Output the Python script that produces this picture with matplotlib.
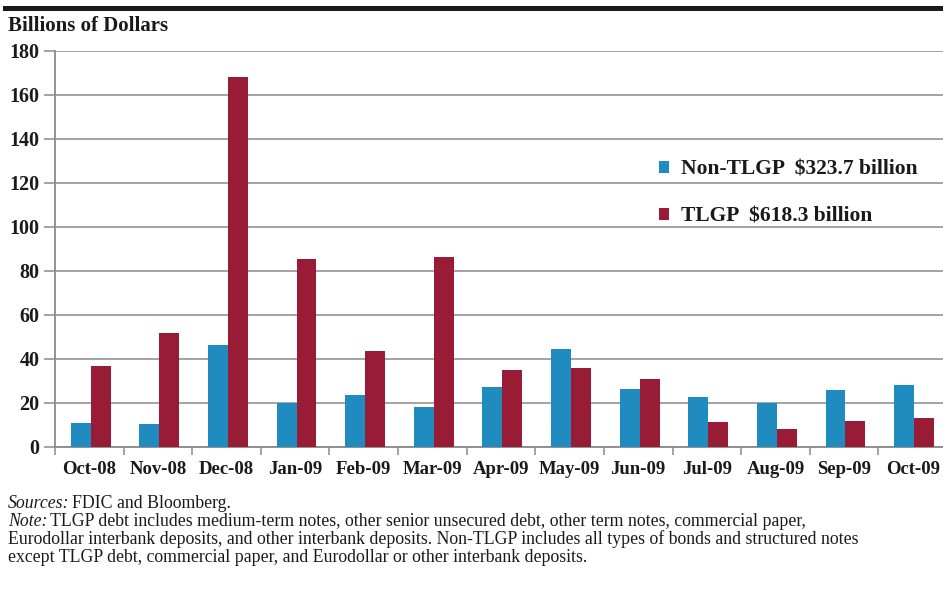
import matplotlib
matplotlib.use("Agg")
import matplotlib.pyplot as plt
import numpy as np
from matplotlib.patches import Rectangle

months = ["Oct-08", "Nov-08", "Dec-08", "Jan-09", "Feb-09", "Mar-09", "Apr-09",
          "May-09", "Jun-09", "Jul-09", "Aug-09", "Sep-09", "Oct-09"]
non_tlgp = [10.9, 10.5, 46.4, 20.0, 23.6, 18.2, 27.3, 44.5, 26.4, 22.7, 20.0, 25.9, 28.2]
tlgp = [36.8, 51.8, 168.2, 85.5, 43.6, 86.4, 35.0, 36.0, 31.0, 11.4, 8.2, 11.8, 13.2]
yticks = [0, 20, 40, 60, 80, 100, 120, 140, 160, 180]
legend_labels = ["Non-TLGP  $323.7 billion", "TLGP  $618.3 billion"]

BLUE = "#208BBE"
RED = "#981C35"
GRID = "#8a8a8a"
TEXT = "#1a1a1a"

plt.rcParams['font.family'] = ['Liberation Serif', 'DejaVu Serif']

fig = plt.figure(figsize=(9.43, 5.89), dpi=100)
ax = fig.add_axes([55/943, 1-447/589, 892/943, 396/589])

x = np.arange(len(months))
w = 0.29
b1 = ax.bar(x - w/2 + 0.02, non_tlgp, width=w, color=BLUE, zorder=3)
b2 = ax.bar(x + w/2 + 0.02, tlgp, width=w, color=RED, zorder=3)

ax.set_xlim(-0.5, len(months) - 0.5)
ax.set_ylim(0, 180)
ax.set_yticks(yticks)
ax.set_yticklabels([str(v) for v in yticks], fontsize=14.5, fontweight='bold', color=TEXT)
ax.yaxis.grid(True, color=GRID, linewidth=1.1, zorder=0)
ax.set_axisbelow(True)

ax.set_xticks(x)
ax.set_xticklabels(months, fontsize=13.5, fontweight='bold', color=TEXT)
ax.tick_params(axis='x', length=0, pad=10)
ax.set_xticks(np.arange(-0.5, len(months)), minor=True)
ax.tick_params(axis='x', which='minor', length=6, color=GRID, width=1.1)
ax.tick_params(axis='y', length=8, color=GRID, width=1.1, pad=3)

for s in ['top', 'right']:
    ax.spines[s].set_visible(False)
for s in ['left', 'bottom']:
    ax.spines[s].set_color(GRID)
    ax.spines[s].set_linewidth(1.3)

leg = ax.legend([b1, b2], legend_labels, loc='upper left', bbox_to_anchor=(0.655, 0.775),
                frameon=False, prop={'size': 15.5, 'weight': 'bold'},
                handlelength=0.5, handleheight=0.5, handletextpad=0.55, labelspacing=1.25)
for t in leg.get_texts():
    t.set_color(TEXT)

# Top rule
fig.add_artist(Rectangle((3/943, 1-11/589), 940/943, 5/589, transform=fig.transFigure,
                         color="#1a1a1a", lw=0))

fig.text(8/943, 1-26/589, "Billions of Dollars", fontsize=15, fontweight='bold',
         color=TEXT, va='center', ha='left')

fs = 12.8
fig.text(8/943, 1-503/589, "Sources:", fontsize=fs, style='italic', va='center', color=TEXT)
fig.text(72/943, 1-503/589, "FDIC and Bloomberg.", fontsize=fs, va='center', color=TEXT)
fig.text(8/943, 1-521/589, "Note:", fontsize=fs, style='italic', va='center', color=TEXT)
fig.text(50/943, 1-521/589, "TLGP debt includes medium-term notes, other senior unsecured debt, other term notes, commercial paper,",
         fontsize=fs, va='center', color=TEXT)
fig.text(8/943, 1-539/589, "Eurodollar interbank deposits, and other interbank deposits. Non-TLGP includes all types of bonds and structured notes",
         fontsize=fs, va='center', color=TEXT)
fig.text(8/943, 1-557/589, "except TLGP debt, commercial paper, and Eurodollar or other interbank deposits.",
         fontsize=fs, va='center', color=TEXT)

fig.savefig("out.png", dpi=100)
